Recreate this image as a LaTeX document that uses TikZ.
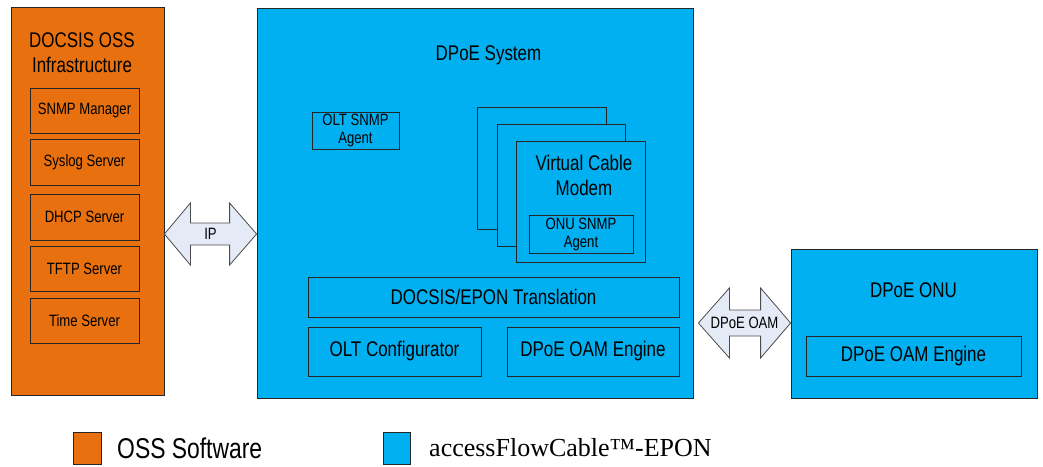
\documentclass[tikz,border=0pt]{standalone}
\usepackage{fontspec}
\setmainfont{Liberation Sans}[FakeStretch=0.8]
\newfontfamily\legendfont{Liberation Serif}
\usetikzlibrary{calc}
\definecolor{ossorange}{RGB}{232,112,14}
\definecolor{flowblue}{RGB}{0,176,240}
\definecolor{linkfill}{RGB}{229,235,246}
\newcommand{\bigtext}{\fontsize{21.2}{25}\selectfont}
\newcommand{\smalltext}{\fontsize{16.4}{18}\selectfont}

\begin{document}
\begin{tikzpicture}[x=1pt,y=-1pt,
        box/.style={draw=black!85,line width=0.8pt,inner sep=0pt,align=center},
        oss box/.style={box,fill=ossorange},
        dpoe box/.style={box,fill=flowblue},
        label text/.style={inner sep=0pt,align=center},
        link/.style={draw=black!70,line width=0.8pt,fill=linkfill},
    ]
    \useasboundingbox (0,0) rectangle (1043,466);

    % OSS side
    \node[oss box,minimum width=153,minimum height=388] (oss) at (87.5,201) {};
    \node[label text,font=\bigtext] (osstitle) at (82,53) {DOCSIS OSS\\Infrastructure};
    \node[oss box,font=\smalltext,minimum width=109,minimum height=45] (snmp) at (84.5,110.5) {SNMP Manager};
    \node[oss box,font=\smalltext,minimum width=109,minimum height=46] (syslog) at (84.5,162) {Syslog Server};
    \node[oss box,font=\smalltext,minimum width=109,minimum height=46] (dhcp) at (84.5,217) {DHCP Server};
    \node[oss box,font=\smalltext,minimum width=109,minimum height=45] (tftp) at (84.5,268.5) {TFTP Server};
    \node[oss box,font=\smalltext,minimum width=109,minimum height=45] (time) at (84.5,320.5) {Time Server};

    % DPoE system
    \node[dpoe box,minimum width=436,minimum height=390] (sys) at (475,203) {};
    \node[label text,font=\bigtext] (systitle) at (488.5,55) {DPoE System};
    \node[dpoe box,font=\smalltext,minimum width=87,minimum height=37] (oltsnmp) at (355.5,130.5) {OLT SNMP\\Agent};
    \node[dpoe box,minimum width=129,minimum height=122] (vcmback) at (541.5,168) {};
    \node[dpoe box,minimum width=128,minimum height=122] (vcmmid) at (561,185) {};
    \node[dpoe box,minimum width=129,minimum height=121] (vcm) at (580.5,201.5) {};
    \node[label text,font=\bigtext] (vcmtitle) at (584,175) {Virtual Cable\\Modem};
    \node[dpoe box,font=\smalltext,minimum width=104,minimum height=38] (onusnmp) at (581,234) {ONU SNMP\\Agent};
    \node[dpoe box,font=\bigtext,minimum width=371,minimum height=40] (trans) at (493.5,297) {DOCSIS/EPON Translation};
    \node[dpoe box,font=\bigtext,minimum width=173,minimum height=49] (oltcfg) at (394.5,351.5) {OLT Configurator};
    \node[dpoe box,font=\bigtext,minimum width=172,minimum height=49] (sysoam) at (593,351.5) {DPoE OAM Engine};

    % DPoE ONU
    \node[dpoe box,minimum width=246,minimum height=149] (onu) at (914,323.5) {};
    \node[label text,font=\bigtext] (onutitle) at (913.5,290) {DPoE ONU};
    \node[dpoe box,font=\bigtext,minimum width=215,minimum height=40] (onuoam) at (913.5,356) {DPoE OAM Engine};

    % interfaces
    \coordinate (ipL) at (oss.east |- 0,234);
    \coordinate (ipR) at (sys.west |- 0,234);
    \draw[link] (ipL) -- ++(26,-31) -- ++(0,20) -- ($(ipR)+(-27,-11)$) -- ++(0,-20) -- (ipR)
        -- ++(-27,31) -- ++(0,-20) -- ($(ipL)+(26,11)$) -- ++(0,20) -- cycle;
    \node[label text,font=\smalltext] (ip) at ($(ipL)!0.5!(ipR)$) {IP};

    \coordinate (oamL) at ($(sys.east |- 0,323)+(5,0)$);
    \coordinate (oamR) at (onu.west |- 0,323);
    \draw[link] (oamL) -- ++(31,-35) -- ++(0,22) -- ($(oamR)+(-30,-13)$) -- ++(0,-22) -- (oamR)
        -- ++(-30,35) -- ++(0,-22) -- ($(oamL)+(31,13)$) -- ++(0,22) -- cycle;
    \node[label text,font=\smalltext] (oam) at ($(oamL)!0.5!(oamR)$) {DPoE OAM};

    % legend
    \node[oss box,minimum width=28,minimum height=32] (keyoss) at (87,448) {};
    \node[label text,anchor=west,font=\fontsize{28.6}{30}\selectfont] (keyosstext) at (117,448) {OSS Software};
    \node[dpoe box,minimum width=27,minimum height=32] (keyflow) at (396.5,448) {};
    \node[label text,anchor=west,font=\legendfont\fontsize{26}{30}\selectfont] (keyflowtext) at (429,448) {accessFlowCable™-EPON};
\end{tikzpicture}
\end{document}
